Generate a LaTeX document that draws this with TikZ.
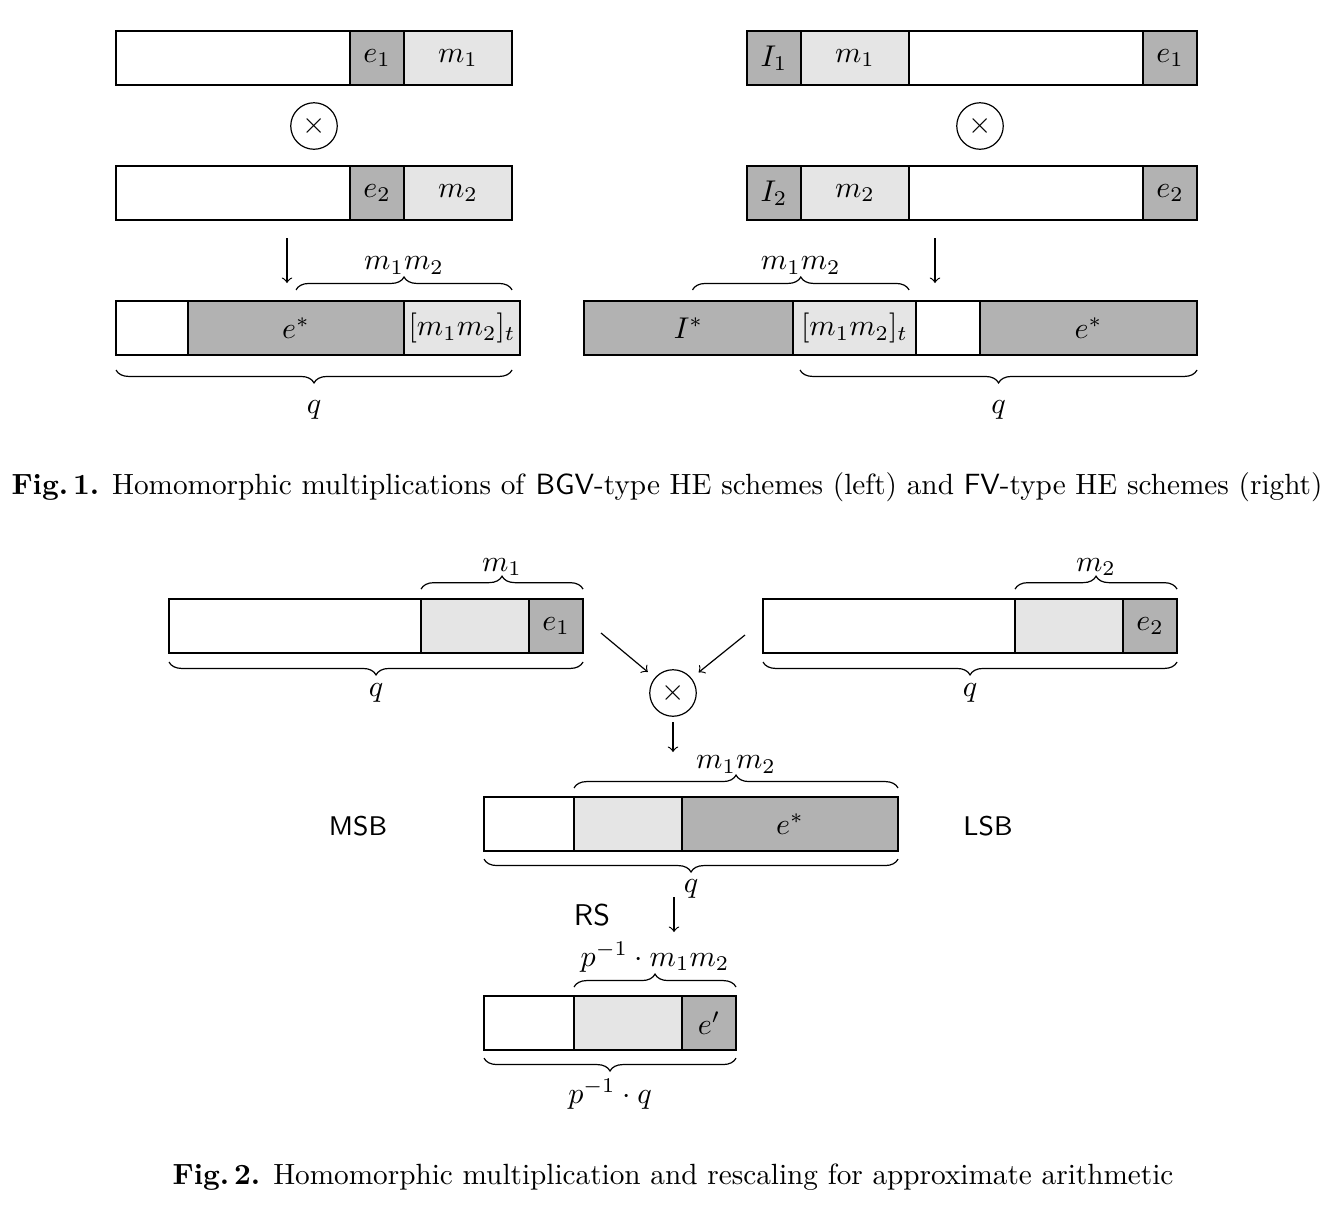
\documentclass[tikz,border=0pt]{standalone}
\usepackage{amsmath,amssymb}
\usetikzlibrary{positioning, shapes.geometric, decorations.pathreplacing}

\begin{document}
\begin{tikzpicture}[x=0.3333pt, y=-0.3333pt,
	cell/.style={draw=black, inner sep=0pt, outer sep=0pt, minimum height=18pt, anchor=west},
	plain/.style={cell, fill=white},
	light/.style={cell, fill=gray!20},
	dark/.style={cell, fill=gray!60},
	mulop/.style={draw=black, circle, inner sep=0pt, minimum size=15.5pt},
	brc/.style={decorate, decoration={brace, amplitude=4.3pt}},
	blbl/.style={midway, inner sep=0pt},
	arr/.style={->},
	side/.style={font=\sffamily\small},
	capt/.style={font=\fontsize{9.75}{11.5}\selectfont}]
	\useasboundingbox (0,0) rectangle (1334,1212);

	% Fig. 1, left: BGV-type
	\node[plain, minimum width=78pt] (l1a) at (116,58) {};
	\node[dark, minimum width=18pt, right=0pt of l1a] (l1e) {$e_1$};
	\node[light, minimum width=36pt, right=0pt of l1e] (l1m) {$m_1$};

	\node[mulop] (lmul) at (314,126) {$\times$};

	\node[plain, minimum width=78pt] (l2a) at (116,193) {};
	\node[dark, minimum width=18pt, right=0pt of l2a] (l2e) {$e_2$};
	\node[light, minimum width=36pt, right=0pt of l2e] (l2m) {$m_2$};

	\coordinate (lto1) at (287,238);
	\coordinate (lto2) at (287,283);
	\draw[arr] (lto1) -- (lto2);

	\node[plain, minimum width=24pt] (l3a) at (116,328) {};
	\node[dark, minimum width=72pt, right=0pt of l3a] (l3e) {$e^*$};
	\node[light, minimum width=38.67pt, right=0pt of l3e] (l3m) {$[m_1m_2]_t$};

	\draw[brc] ([yshift=3.7pt]l3e.north) -- ([xshift=-2.67pt, yshift=3.7pt]l3m.north east)
		node[blbl, above=5pt] {$m_1m_2$};
	\draw[brc] ([xshift=-2.67pt, yshift=-5pt]l3m.south east) -- ([yshift=-5pt]l3a.south west)
		node[blbl, below=10pt] {$q$};

	% Fig. 1, right: FV-type
	\node[dark, minimum width=18pt] (r1i) at (747,58) {$I_1$};
	\node[light, minimum width=36pt, right=0pt of r1i] (r1m) {$m_1$};
	\node[plain, minimum width=78pt, right=0pt of r1m] (r1a) {};
	\node[dark, minimum width=18pt, right=0pt of r1a] (r1e) {$e_1$};

	\node[mulop] (rmul) at (980,126) {$\times$};

	\node[dark, minimum width=18pt] (r2i) at (747,193) {$I_2$};
	\node[light, minimum width=36pt, right=0pt of r2i] (r2m) {$m_2$};
	\node[plain, minimum width=78pt, right=0pt of r2m] (r2a) {};
	\node[dark, minimum width=18pt, right=0pt of r2a] (r2e) {$e_2$};

	\coordinate (rto1) at (935,238);
	\coordinate (rto2) at (935,283);
	\draw[arr] (rto1) -- (rto2);

	\node[dark, minimum width=69.67pt] (r3i) at (584,328) {$I^*$};
	\node[light, minimum width=41pt, right=0pt of r3i] (r3m) {$[m_1m_2]_t$};
	\node[plain, minimum width=21.33pt, right=0pt of r3m] (r3a) {};
	\node[dark, minimum width=72.33pt, right=0pt of r3a] (r3e) {$e^*$};

	\draw[brc] ([xshift=1.33pt, yshift=3.7pt]r3i.north) -- ([xshift=-2.33pt, yshift=3.7pt]r3m.north east)
		node[blbl, above=5pt] {$m_1m_2$};
	\draw[brc] ([yshift=-5pt]r3e.south east) -- ([xshift=2.33pt, yshift=-5pt]r3m.south west)
		node[blbl, below=10pt] {$q$};

	\node[capt] (cap1) at (667,487) {\textbf{Fig.\,1.} Homomorphic multiplications of \textsf{BGV}-type HE schemes (left) and \textsf{FV}-type HE schemes (right)};

	% Fig. 2: approximate arithmetic
	\node[plain, minimum width=84pt] (aw) at (169,626) {};
	\node[light, minimum width=36pt, right=0pt of aw] (am) {};
	\node[dark, minimum width=18pt, right=0pt of am] (ae) {$e_1$};
	\draw[brc] ([yshift=3.3pt]am.north west) -- ([yshift=3.3pt]ae.north east)
		node[blbl, above=4.3pt] {$m_1$};
	\draw[brc] ([yshift=-3pt]ae.south east) -- ([yshift=-3pt]aw.south west)
		node[blbl, below=7pt] {$q$};

	\node[plain, minimum width=84pt] (bw) at (763,626) {};
	\node[light, minimum width=36pt, right=0pt of bw] (bm) {};
	\node[dark, minimum width=18pt, right=0pt of bm] (be) {$e_2$};
	\draw[brc] ([yshift=3.3pt]bm.north west) -- ([yshift=3.3pt]be.north east)
		node[blbl, above=4.3pt] {$m_2$};
	\draw[brc] ([yshift=-3pt]be.south east) -- ([yshift=-3pt]bw.south west)
		node[blbl, below=7pt] {$q$};

	\node[mulop] (mul) at (673,693) {$\times$};
	\coordinate (ain) at (601,633);
	\coordinate (bin) at (745,635);
	\draw[arr, shorten >=3pt] (ain) -- (mul);
	\draw[arr, shorten >=3pt] (bin) -- (mul);

	\coordinate (mto1) at (673,722);
	\coordinate (mto2) at (673,752);
	\draw[arr] (mto1) -- (mto2);

	\node[plain, minimum width=30pt] (cw) at (484,824) {};
	\node[light, minimum width=36pt, right=0pt of cw] (cm) {};
	\node[dark, minimum width=72pt, right=0pt of cm] (ce) {$e^*$};
	\draw[brc] ([yshift=3pt]cm.north west) -- ([yshift=3pt]ce.north east)
		node[blbl, above=4.7pt] {$m_1m_2$};
	\draw[brc] ([yshift=-2.7pt]ce.south east) -- ([yshift=-2.7pt]cw.south west)
		node[blbl, below=6.7pt] {$q$};

	\node[side] (msb) at (358,826) {MSB};
	\node[side] (lsb) at (988,826) {LSB};
	\node[side, font=\sffamily\normalsize] (rs) at (592,915) {RS};

	\coordinate (rto) at (674,897);
	\coordinate (rend) at (674,932);
	\draw[arr] (rto) -- (rend);

	\node[plain, minimum width=30pt] (dw) at (484,1023) {};
	\node[light, minimum width=36pt, right=0pt of dw] (dm) {};
	\node[dark, minimum width=18pt, right=0pt of dm] (de) {$e'$};
	\draw[brc] ([yshift=3pt]dm.north west) -- ([yshift=3pt]de.north east)
		node[blbl, above=4.7pt] {$p^{-1}\cdot m_1m_2$};
	\draw[brc] ([yshift=-2.7pt]de.south east) -- ([yshift=-2.7pt]dw.south west)
		node[blbl, below=6.7pt] {$p^{-1}\cdot q$};

	\node[capt] (cap2) at (673,1177) {\textbf{Fig.\,2.} Homomorphic multiplication and rescaling for approximate arithmetic};
\end{tikzpicture}
\end{document}
